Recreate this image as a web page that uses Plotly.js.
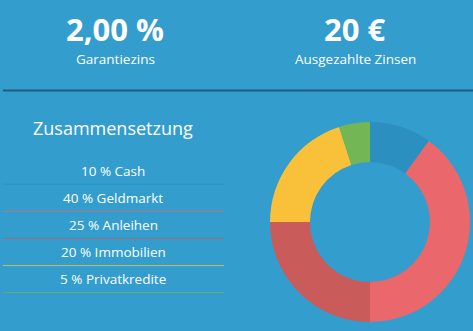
<!DOCTYPE html>
<html>
<head>
<meta charset="utf-8">
<script src="https://cdn.plot.ly/plotly-3.0.1.min.js"></script>
<style>
html,body{margin:0;padding:0;background:#339dcd;}
#chart{width:473px;height:331px;}
</style>
</head>
<body>
<div id="chart"></div>
<script>
// Data
const categories = ["Cash", "Geldmarkt", "Anleihen", "Immobilien", "Privatkredite"];
const shares = [10, 40, 25, 20, 5];
const sliceColors = ["#2b8fbf", "#ea686b", "#c95b5b", "#f9c13a", "#72b656"];
const kpiValues = ["2,00 %", "20 €"];
const kpiLabels = ["Garantiezins", "Ausgezahlte Zinsen"];
const sectionTitle = "Zusammensetzung";

const W = 473, H = 331;
const px = x => x / W;
const py = y => 1 - y / H;

const font = "Open Sans, sans-serif";
const annotations = [];
const shapes = [];

// KPIs
const kpiX = [115, 355];
kpiValues.forEach((v, i) => {
  annotations.push({x: px(kpiX[i]), y: py(29.5), xref: "paper", yref: "paper", text: "<b>" + v + "</b>",
    showarrow: false, xanchor: "center", yanchor: "middle", font: {family: font, size: 31, color: "#ffffff"}});
  annotations.push({x: px(kpiX[i]), y: py(59), xref: "paper", yref: "paper", text: kpiLabels[i],
    showarrow: false, xanchor: "center", yanchor: "middle", font: {family: font, size: 13.5, color: "#ffffff"}});
});

// divider
shapes.push({type: "line", xref: "paper", yref: "paper", x0: px(3), x1: px(473), y0: py(90.5), y1: py(90.5),
  line: {color: "#235b7e", width: 2}});

// section title
annotations.push({x: px(113), y: py(128), xref: "paper", yref: "paper", text: sectionTitle,
  showarrow: false, xanchor: "center", yanchor: "middle", font: {family: font, size: 18, color: "#ffffff"}});

// list
categories.forEach((c, i) => {
  const ty = 171 + i * 27.1;
  annotations.push({x: px(113), y: py(ty), xref: "paper", yref: "paper", text: shares[i] + " % " + c,
    showarrow: false, xanchor: "center", yanchor: "middle", font: {family: font, size: 13.5, color: "#ffffff"}});
  const ly = ty + 13.2;
  shapes.push({type: "line", xref: "paper", yref: "paper", x0: px(3), x1: px(224), y0: py(ly), y1: py(ly),
    opacity: 0.75, line: {color: sliceColors[i], width: 1}});
});

const trace = {
  type: "pie",
  labels: categories,
  values: shares,
  hole: 0.6,
  sort: false,
  direction: "clockwise",
  rotation: 0,
  textinfo: "none",
  hoverinfo: "label+percent",
  marker: {colors: sliceColors, line: {width: 0}},
  domain: {x: [px(270), px(470)], y: [py(322), py(122)]}
};

const layout = {
  width: W, height: H,
  margin: {l: 0, r: 0, t: 0, b: 0},
  paper_bgcolor: "#339dcd",
  plot_bgcolor: "#339dcd",
  showlegend: false,
  annotations: annotations,
  shapes: shapes
};

Plotly.newPlot("chart", [trace], layout, {displayModeBar: false, staticPlot: true});
</script>
</body>
</html>
